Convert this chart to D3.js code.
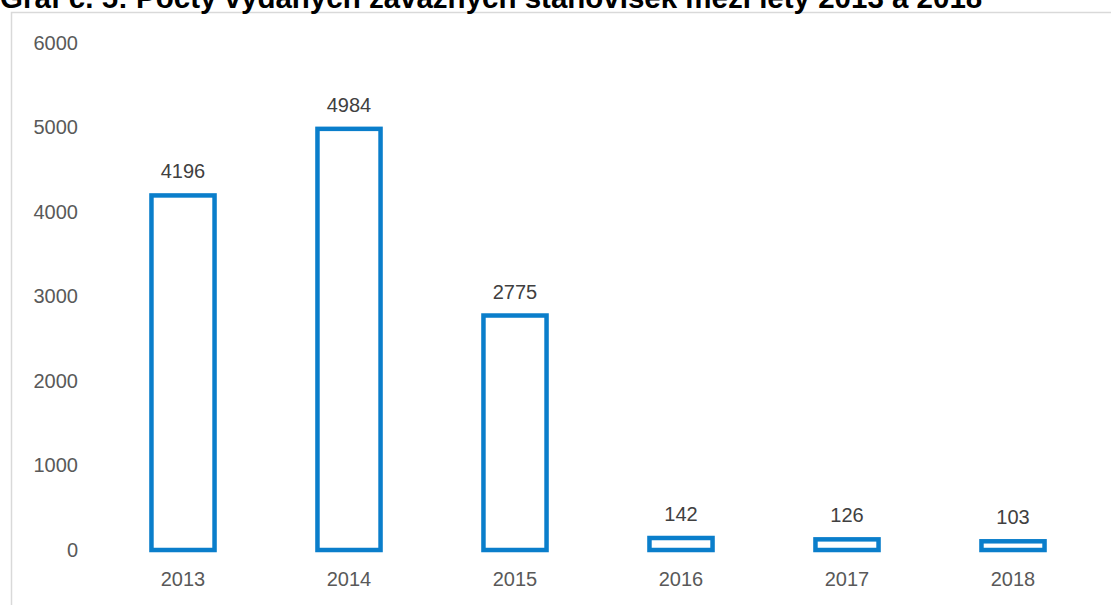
<!DOCTYPE html>
<html>
<head>
<meta charset="utf-8">
<script src="https://cdn.jsdelivr.net/npm/d3@7"></script>
<style>
  html, body { margin: 0; padding: 0; background: #fff; overflow: hidden; }
  svg { display: block; }
</style>
</head>
<body>
<svg id="chart" width="1111" height="605"></svg>
<script>
const title = "Graf č. 5: Počty vydaných závazných stanovisek mezi lety 2013 a 2018";
const years = ["2013", "2014", "2015", "2016", "2017", "2018"];
const values = [4196, 4984, 2775, 142, 126, 103];
const yTicks = [0, 1000, 2000, 3000, 4000, 5000, 6000];

const svg = d3.select("#chart");
const W = 1111, H = 605;

// chart frame
svg.append("rect")
  .attr("x", 11.5).attr("y", 12.5)
  .attr("width", W + 20).attr("height", H + 20)
  .attr("fill", "#fff").attr("stroke", "#d9d9d9").attr("stroke-width", 1.5);

// title (clipped at top like the reference)
svg.append("text")
  .attr("x", 0).attr("y", 8)
  .attr("font-family", "Liberation Sans, Arial, sans-serif")
  .attr("font-weight", "bold")
  .attr("font-size", 29.5)
  .attr("fill", "#000")
  .text(title);

const x = d3.scaleBand().domain(years).range([100, 1096]).paddingInner(0.62).paddingOuter(0.31);
const y = d3.scaleLinear().domain([0, 6000]).range([550, 43]);

const font = "Liberation Sans, Arial, sans-serif";

// y axis labels
const yAxis = d3.axisLeft(y).tickValues(yTicks).tickSize(0).tickPadding(0).tickFormat(d3.format("d"));
const gy = svg.append("g").attr("transform", "translate(78,0)").call(yAxis);
gy.select(".domain").remove();
gy.selectAll("text").attr("font-family", font).attr("font-size", 20).attr("fill", "#595959");

// x axis labels
const xAxis = d3.axisBottom(x).tickSize(0).tickPadding(0);
const gx = svg.append("g").attr("transform", "translate(0,572)").call(xAxis);
gx.select(".domain").remove();
gx.selectAll("text").attr("font-family", font).attr("font-size", 20).attr("fill", "#595959");

const data = years.map((yr, i) => ({ yr, v: values[i] }));

// bars
svg.append("g").selectAll("rect").data(data).join("rect")
  .attr("x", d => x(d.yr))
  .attr("y", d => y(d.v))
  .attr("width", x.bandwidth())
  .attr("height", d => y(0) - y(d.v))
  .attr("fill", "#fff")
  .attr("stroke", "#0a7ecb")
  .attr("stroke-width", 4.5);

// value labels
svg.append("g").selectAll("text").data(data).join("text")
  .attr("x", d => x(d.yr) + x.bandwidth() / 2)
  .attr("y", d => y(d.v) - 17)
  .attr("text-anchor", "middle")
  .attr("font-family", font)
  .attr("font-size", 20)
  .attr("fill", "#404040")
  .text(d => d.v);
</script>
</body>
</html>
